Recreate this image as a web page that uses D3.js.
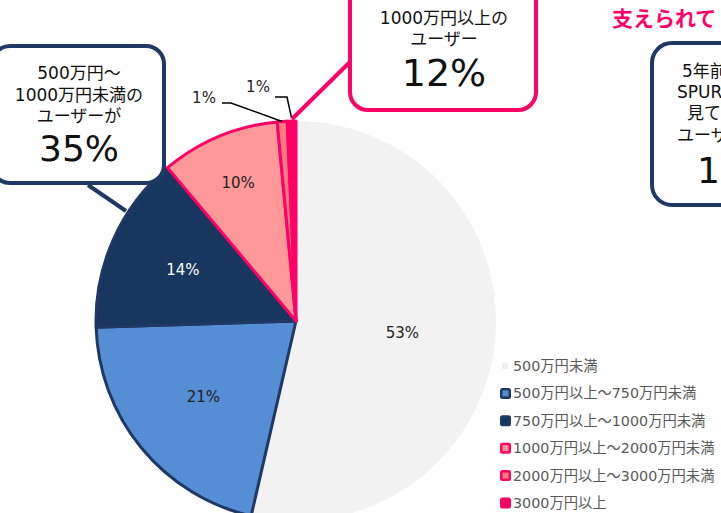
<!DOCTYPE html>
<html><head><meta charset="utf-8">
<script src="https://cdn.jsdelivr.net/npm/d3@7"></script>
<style>
html,body{margin:0;padding:0;background:#fff;overflow:hidden}
svg{display:block;font-family:"DejaVu Sans","Noto Sans CJK JP",sans-serif}
</style></head><body>
<svg id="c" width="721" height="513"></svg>
<script>
const categories = ["500万円未満","500万円以上～750万円未満","750万円以上～1000万円未満","1000万円以上～2000万円未満","2000万円以上～3000万円未満","3000万円以上"];
const values = [53.6, 20.9, 14.4, 9.6, 0.8, 0.7];
const valueLabels = ["53%","21%","14%","10%","1%","1%"];
const fills = ["#f2f2f2","#558ed5","#17375e","#ff9999","#ff7c80","#ff0066"];
const strokes = ["none","#1f3864","#1f3864","#ff0066","#ff0066","#ff0066"];
const legendFill = ["#f2f2f2","#558ed5","#17375e","#ff9999","#ff7c80","#ff0066"];
const legendBorder = ["#f2f2f2","#1f3864","#1f3864","#ff0066","#ff0066","#ff0066"];

const svg = d3.select("#c");
const cx = 296, cy = 321, R = 200;
const g = svg.append("g").attr("transform",`translate(${cx},${cy})`);
const pie = d3.pie().sort(null).value(d=>d)(values);
const arc = d3.arc().innerRadius(0).outerRadius(R);

g.selectAll("path.s").data(pie).join("path")
  .attr("d",arc).attr("fill",(d,i)=>fills[i])
  .attr("stroke",(d,i)=>strokes[i]).attr("stroke-width",(d,i)=>i===0?0:3)
  .attr("stroke-linejoin","round");

// inside labels
const labelR = [0.535,0.6,0.62,0.75];
const labelColor = ["#222","#222","#fff","#222"];
for(let i=0;i<4;i++){
  const a = (pie[i].startAngle+pie[i].endAngle)/2;
  const r = labelR[i]*R;
  g.append("text").attr("x",Math.sin(a)*r).attr("y",-Math.cos(a)*r)
   .attr("text-anchor","middle").attr("dominant-baseline","central")
   .attr("font-size",15).attr("fill",labelColor[i]).text(valueLabels[i]);
}
// small slices: outside labels with leaders
function outer(i, frac){const a=(pie[i].startAngle+pie[i].endAngle)/2;return [cx+Math.sin(a)*R*frac, cy-Math.cos(a)*R*frac];}
const p4 = outer(4,1.0), p5 = outer(5,1.0);
svg.append("polyline").attr("points",`222,103 231,103 ${p4[0]},${p4[1]}`).attr("fill","none").attr("stroke","#000").attr("stroke-width",1.5);
svg.append("polyline").attr("points",`275,97 287,97 ${p5[0]},${p5[1]-3}`).attr("fill","none").attr("stroke","#000").attr("stroke-width",1.5);
svg.append("text").attr("x",204).attr("y",98).attr("text-anchor","middle").attr("dominant-baseline","central").attr("font-size",15).attr("fill","#222").text(valueLabels[4]);
svg.append("text").attr("x",258).attr("y",87).attr("text-anchor","middle").attr("dominant-baseline","central").attr("font-size",15).attr("fill","#222").text(valueLabels[5]);

// legend
const lg = svg.append("g");
categories.forEach((c,i)=>{
  const y = 366 + i*27.4;
  if(i===0){
    lg.append("rect").attr("x",502).attr("y",y-3).attr("width",6).attr("height",6).attr("fill","#eeeeee");
  } else {
    lg.append("rect").attr("x",500).attr("y",y-5.5).attr("width",11).attr("height",11).attr("rx",2.5)
      .attr("fill",legendBorder[i]);
    lg.append("rect").attr("x",502.5).attr("y",y-3).attr("width",6).attr("height",6)
      .attr("fill",legendFill[i]);
  }
  lg.append("text").attr("x",513).attr("y",y).attr("dominant-baseline","central")
    .attr("font-size",14.3).attr("fill","#595959").text(c);
});

// callout tails
svg.append("line").attr("x1",88).attr("y1",185).attr("x2",126).attr("y2",211).attr("stroke","#1f3864").attr("stroke-width",4);
svg.append("line").attr("x1",352).attr("y1",60).attr("x2",292).attr("y2",119).attr("stroke","#ff0066").attr("stroke-width",4);

// left callout
svg.append("rect").attr("x",-8).attr("y",46).attr("width",172).attr("height",137).attr("rx",18)
  .attr("fill","#fff").attr("stroke","#1f3864").attr("stroke-width",4);
const lt = [["500万円～",73,17],["1000万円未満の",95,17],["ユーザーが",116,17],["35%",148,36]];
lt.forEach(([t,y,s])=>svg.append("text").attr("x",79).attr("y",y).attr("text-anchor","middle")
  .attr("dominant-baseline","central").attr("font-size",s).attr("fill","#111").text(t));

// pink callout
svg.append("rect").attr("x",350).attr("y",-20).attr("width",186).attr("height",130).attr("rx",18)
  .attr("fill","#fff").attr("stroke","#ff0066").attr("stroke-width",4);
const pt = [["1000万円以上の",18,17],["ユーザー",39,17],["12%",73,38]];
pt.forEach(([t,y,s])=>svg.append("text").attr("x",444).attr("y",y).attr("text-anchor","middle")
  .attr("dominant-baseline","central").attr("font-size",s).attr("fill","#111").text(t));

// right title (cropped in the reference)
svg.append("text").attr("x",612).attr("y",19).attr("dominant-baseline","central")
  .attr("font-size",21).attr("font-weight","bold").attr("fill","#ff0066").text("支えられて");

// right callout (cropped in the reference)
svg.append("rect").attr("x",652).attr("y",43).attr("width",200).attr("height",162).attr("rx",20)
  .attr("fill","#fff").attr("stroke","#1f3864").attr("stroke-width",4);
const rt = [["5年前",682,71,17],["SPUR",677,92,17],["見て",687,113,17],["ユーザ",677,135,17],["19",697,170,36]];
rt.forEach(([t,x,y,s])=>svg.append("text").attr("x",x).attr("y",y)
  .attr("dominant-baseline","central").attr("font-size",s).attr("fill","#111").text(t));
</script>
</body></html>
